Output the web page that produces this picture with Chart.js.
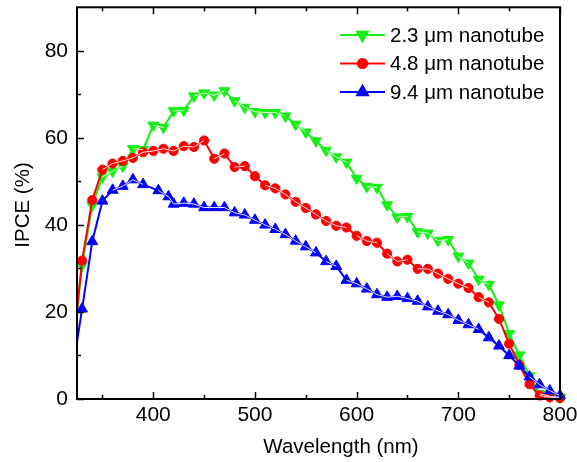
<!DOCTYPE html>
<html>
<head>
<meta charset="utf-8">
<script src="https://cdn.jsdelivr.net/npm/chart.js@4.4.1/dist/chart.umd.min.js"></script>
<style>
  html, body { margin: 0; padding: 0; background: #fff; }
  #wrap { width: 577px; height: 462px; }
</style>
</head>
<body>
<div id="wrap"><canvas id="ipceChart" width="577" height="462"></canvas></div>
<script>
// wavelength grid (nm) for the 2.3 and 4.8 um samples
const wavelengths = [320, 330, 340, 350, 360, 370, 380, 390, 400, 410, 420, 430, 440, 450, 460, 470, 480, 490, 500,
  510, 520, 530, 540, 550, 560, 570, 580, 590, 600, 610, 620, 630, 640, 650, 660, 670, 680, 690, 700,
  710, 720, 730, 740, 750, 760, 770, 780, 790, 800];
// the 9.4 um sample was taken at slightly different points near 400 nm
const wavelengthsBlue = [320, 330, 340, 350, 360, 370, 380, 390, 405, 415, 420, 430, 440, 450, 460, 470, 480, 490, 500,
  510, 520, 530, 540, 550, 560, 570, 580, 590, 600, 610, 620, 630, 640, 650, 660, 670, 680, 690, 700,
  710, 720, 730, 740, 750, 760, 770, 780, 790, 800];

const ipce23 = [9.5, 30.7, 44.5, 51.0, 52.3, 53.5, 57.5, 57.3, 62.9, 62.4, 66.2, 66.3, 69.6, 70.3, 69.8, 70.8, 68.5, 67.0, 66.0,
  65.8, 65.8, 65.0, 63.1, 61.3, 59.3, 57.1, 55.6, 54.4, 50.7, 48.8, 48.6, 44.6, 41.8, 41.9, 38.4, 38.1, 36.4, 36.6, 32.8,
  31.2, 27.5, 26.3, 21.6, 15.0, 10.1, 5.3, 1.2, 0.6, 0.4];
const ipce48 = [9.0, 31.8, 45.7, 52.7, 54.1, 54.7, 55.4, 56.7, 57.0, 57.5, 57.0, 58.1, 57.9, 59.4, 55.2, 56.4, 53.3, 53.5, 51.2,
  49.1, 48.4, 47.0, 45.3, 43.9, 42.4, 40.9, 39.8, 39.4, 37.5, 36.3, 35.9, 33.4, 31.6, 32.0, 29.9, 29.9, 28.8, 27.6, 26.5,
  25.5, 23.4, 22.2, 18.4, 12.7, 7.8, 3.4, 0.8, 0.4, 0.2];
const ipce94 = [5.5, 20.7, 36.2, 45.5, 48.0, 48.9, 50.4, 49.3, 47.9, 46.5, 44.8, 45.0, 44.8, 44.0, 44.0, 44.0, 42.8, 42.3, 41.1,
  40.0, 39.0, 37.8, 36.3, 35.0, 33.6, 31.6, 30.5, 27.3, 26.5, 25.3, 24.0, 23.4, 23.6, 23.1, 22.5, 21.2, 20.2, 19.4, 18.1,
  17.1, 16.0, 14.1, 12.2, 10.0, 7.6, 5.1, 3.3, 1.9, 0.8];

const seriesNames = ["2.3 \u03bcm nanotube", "4.8 \u03bcm nanotube", "9.4 \u03bcm nanotube"];
const seriesColors = ["rgb(20,240,20)", "rgb(255,0,0)", "rgb(0,0,255)"];

const xTicks = [400, 500, 600, 700, 800];
const xMinorTicks = [350, 450, 550, 650, 750];
const yTicks = [0, 20, 40, 60, 80];
const yMinorTicks = [10, 30, 50, 70];

const FONT = "'Liberation Sans', Arial, sans-serif";

const toPoints = (xs, ys) => xs.map((x, i) => ({ x: x, y: ys[i] }));

const markers = [
  { style: "triangle", radius: 6.3, rotation: 180 },
  { style: "circle", radius: 4.6, rotation: 0 },
  { style: "triangle", radius: 6.3, rotation: 0 },
];

const mainSet = (i, pts) => ({
  label: seriesNames[i],
  data: pts,
  borderColor: seriesColors[i],
  backgroundColor: seriesColors[i],
  borderWidth: 2,
  pointStyle: markers[i].style,
  pointRadius: markers[i].radius,
  pointRotation: markers[i].rotation,
  pointBorderWidth: 1,
  pointBorderColor: seriesColors[i],
  pointBackgroundColor: seriesColors[i],
  tension: 0,
  order: 10 + (3 - i),
  clip: { left: 0, top: 6, right: 8, bottom: 8 },
});

// thin white trace running through closely spaced markers
const whiteSet = (pts, ord) => ({
  data: pts,
  borderWidth: 1,
  borderColor: "rgba(255,255,255,0.9)",
  pointRadius: 0,
  order: ord,
  clip: { left: 0, top: 6, right: 8, bottom: 8 },
  segment: {
    borderColor: (c) => {
      const d = Math.hypot(c.p1.x - c.p0.x, c.p1.y - c.p0.y);
      return d < 13 ? "rgba(255,255,255,0.9)" : "rgba(255,255,255,0)";
    },
  },
});

const pts23 = toPoints(wavelengths, ipce23);
const pts48 = toPoints(wavelengths, ipce48);
const pts94 = toPoints(wavelengthsBlue, ipce94);

const drawMarker = (ctx, i, x, y) => {
  Chart.helpers.drawPoint(ctx, {
    pointStyle: markers[i].style,
    radius: markers[i].radius,
    rotation: markers[i].rotation,
    borderWidth: 1,
  }, x, y);
};

const decor = {
  id: "decor",
  afterDatasetsDraw(chart) {
    const ctx = chart.ctx;
    const a = chart.chartArea;
    const xs = chart.scales.x;
    const ys = chart.scales.y;
    ctx.save();
    ctx.strokeStyle = "#000";
    ctx.lineWidth = 2;
    ctx.strokeRect(a.left, a.top, a.right - a.left, a.bottom - a.top);

    ctx.lineWidth = 1.5;
    ctx.beginPath();
    xTicks.concat(xMinorTicks).forEach((v) => {
      const len = xTicks.includes(v) ? 7 : 4;
      const px = Math.round(xs.getPixelForValue(v)) + 0.5;
      ctx.moveTo(px, a.bottom);
      ctx.lineTo(px, a.bottom - len);
      ctx.moveTo(px, a.top);
      ctx.lineTo(px, a.top + len);
    });
    yTicks.concat(yMinorTicks).forEach((v) => {
      const len = yTicks.includes(v) ? 7 : 4;
      const py = Math.round(ys.getPixelForValue(v)) + 0.5;
      ctx.moveTo(a.left, py);
      ctx.lineTo(a.left + len, py);
    });
    ctx.stroke();

    // axis titles
    ctx.fillStyle = "#000";
    ctx.font = "20.5px " + FONT;
    ctx.textAlign = "center";
    ctx.textBaseline = "middle";
    ctx.fillText("Wavelength (nm)", 341, 447);
    ctx.save();
    ctx.translate(23, 205);
    ctx.rotate(-Math.PI / 2);
    ctx.fillText("IPCE (%)", 0, 0);
    ctx.restore();

    // legend
    const rows = [35, 63.5, 92];
    ctx.font = "20.5px " + FONT;
    ctx.textAlign = "left";
    rows.forEach((ry, i) => {
      ctx.strokeStyle = seriesColors[i];
      ctx.fillStyle = seriesColors[i];
      ctx.lineWidth = 2;
      ctx.beginPath();
      ctx.moveTo(340, ry);
      ctx.lineTo(385, ry);
      ctx.stroke();
      drawMarker(ctx, i, 362.5, ry);
      ctx.fillStyle = "#000";
      ctx.fillText(seriesNames[i], 390, ry + 1);
    });
    ctx.restore();
  },
};

new Chart(document.getElementById("ipceChart"), {
  type: "line",
  data: {
    datasets: [
      mainSet(0, pts23),
      mainSet(1, pts48),
      mainSet(2, pts94),
      whiteSet(pts23, 3),
      whiteSet(pts48, 2),
      whiteSet(pts94, 1),
    ],
  },
  options: {
    responsive: false,
    animation: false,
    events: [],
    layout: { padding: { top: 7, right: 17, left: 0, bottom: 0 } },
    plugins: { legend: { display: false }, tooltip: { enabled: false }, title: { display: false } },
    scales: {
      x: {
        type: "linear",
        min: 325,
        max: 800,
        grid: { display: false, drawTicks: false },
        border: { display: false },
        afterBuildTicks: (s) => { s.ticks = xTicks.map((v) => ({ value: v })); },
        afterFit: (s) => { s.height = 63; s.paddingLeft = 0; s.paddingRight = 0; },
        ticks: { color: "#000", padding: 4, maxRotation: 0, font: { family: FONT, size: 21 } },
      },
      y: {
        min: 0,
        max: 90,
        grid: { display: false, drawTicks: false },
        border: { display: false },
        afterBuildTicks: (s) => { s.ticks = yTicks.map((v) => ({ value: v })); },
        afterFit: (s) => { s.width = 77; s.paddingTop = 0; s.paddingBottom = 0; },
        ticks: { color: "#000", padding: 9, font: { family: FONT, size: 21 } },
      },
    },
  },
  plugins: [decor],
});
</script>
</body>
</html>
